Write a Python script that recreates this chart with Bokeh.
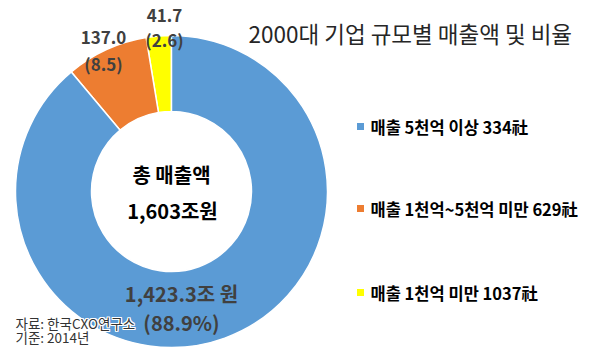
import numpy as np
from bokeh.plotting import figure
from bokeh.models import Range1d, ColumnDataSource
from bokeh.core.properties import value
from bokeh.embed import file_html
from bokeh.resources import INLINE

# ---------------- data ----------------
title = "2000대 기업 규모별 매출액 및 비율"
categories = ["매출 5천억 이상", "매출 1천억~5천억 미만", "매출 1천억 미만"]
company_counts = [334, 629, 1037]
sales = [1423.3, 137.0, 41.7]          # 조원
shares = [88.9, 8.5, 2.6]              # %
colors = ["#5B9BD5", "#ED7D31", "#FFFF00"]
center_lines = ["총 매출액", "1,603조원"]
source_lines = ["자료: 한국CXO연구소", "기준: 2014년"]

FONT = value("Noto Sans CJK KR")

# ---------------- layout ----------------
W, H = 584, 347
def Y(py):            # pixel row (from top) -> data y
    return H - py

p = figure(width=W, height=H, x_range=Range1d(0, W), y_range=Range1d(0, H),
           output_backend="svg", toolbar_location=None, min_border=0,
           x_axis_type=None, y_axis_type=None)
p.grid.visible = False
p.outline_line_color = None
p.background_fill_color = "white"

cx, cy = 171, Y(191)
r_in, r_out = 80, 156

# wedges: anticlockwise from 12 o'clock, smallest first
frac = np.array(shares) / np.sum(shares)
order = [2, 1, 0]
starts, ends, cols = [], [], []
a = np.pi / 2
for i in order:
    starts.append(a)
    a = a + frac[i] * 2 * np.pi
    ends.append(a)
    cols.append(colors[i])
src = ColumnDataSource(dict(start=starts, end=ends, color=cols))
p.annular_wedge(x=cx, y=cy, inner_radius=r_in, outer_radius=r_out,
                start_angle="start", end_angle="end", source=src,
                fill_color="color", line_color="white", line_width=1.5)

# slice labels
label_pos = {0: (181, 293, 322, "20px"), 1: (103, 37, 63, "17px"), 2: (164, 15, 39, "17px")}
for i, (lx, y1, y2, fs) in label_pos.items():
    if i == 0:
        t1 = f"{sales[i]:,.1f}조 원"
        t2 = f"({shares[i]}%)"
    else:
        t1 = f"{sales[i]:.1f}"
        t2 = f"({shares[i]})"
    p.text(x=[lx, lx], y=[Y(y1), Y(y2)], text=[t1, t2], text_font=FONT,
           text_font_size=fs, text_font_style="bold", text_color="#404040",
           text_align="center", text_baseline="middle")

# center text
p.text(x=[171, 172], y=[Y(174), Y(210)], text=center_lines, text_font=FONT,
       text_font_size="20px", text_font_style="bold", text_color="black",
       text_align="center", text_baseline="middle")

# title
p.text(x=[248], y=[Y(32)], text=[title], text_font=FONT, text_font_size="22.5px",
       text_color="#262626", text_align="left", text_baseline="middle")

# legend
leg_y = [Y(126), Y(208), Y(292)]
p.scatter(x=[360] * 3, y=leg_y, marker="square", size=7, fill_color=colors, line_color=None)
leg_text = [f"{c} {n}社" for c, n in zip(categories, company_counts)]
p.text(x=[370] * 3, y=leg_y, text=leg_text, text_font=FONT, text_font_size="16.5px",
       text_font_style="bold", text_color="black", text_align="left", text_baseline="middle")

# source notes with white halo
sy = [Y(322), Y(336)]
for dx, dy in [(-1, 0), (1, 0), (0, -1), (0, 1), (-1, -1), (1, 1), (-1, 1), (1, -1)]:
    p.text(x=[15, 15], y=sy, text=source_lines, text_font=FONT, text_font_size="13.5px",
           text_color="white", text_align="left", text_baseline="middle",
           x_offset=dx, y_offset=dy)
p.text(x=[15, 15], y=sy, text=source_lines, text_font=FONT, text_font_size="13.5px",
       text_color="#333333", text_align="left", text_baseline="middle")

open("out.html", "w").write(file_html(p, INLINE))
